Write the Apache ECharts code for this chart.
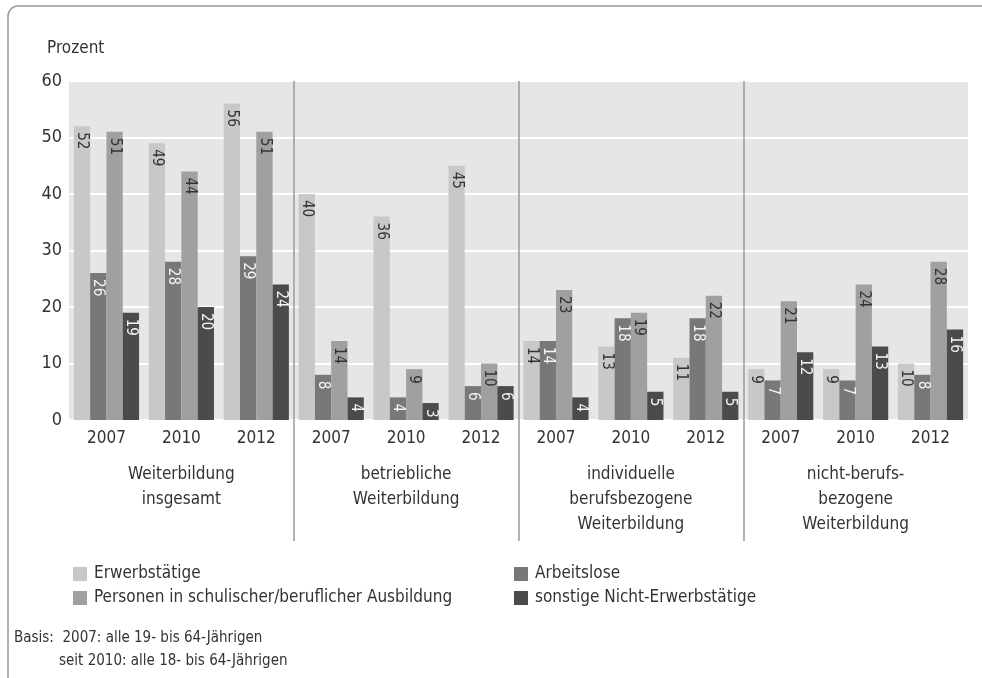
<!DOCTYPE html>
<html>
<head>
<meta charset="utf-8">
<script src="https://cdn.jsdelivr.net/npm/echarts@6/dist/echarts.min.js"></script>
<style>
  html, body { margin: 0; padding: 0; background: #fff; }
  #chart { width: 982px; height: 678px; }
</style>
</head>
<body>
<div id="chart"></div>
<script>
const FONT = "'DejaVu Sans Condensed', 'Liberation Sans Narrow', sans-serif";

const years = ["2007", "2010", "2012", "2007", "2010", "2012", "2007", "2010", "2012", "2007", "2010", "2012"];
const groups = [
  "Weiterbildung\ninsgesamt",
  "betriebliche\nWeiterbildung",
  "individuelle\nberufsbezogene\nWeiterbildung",
  "nicht-berufs-\nbezogene\nWeiterbildung",
];
const yTicks = [0, 10, 20, 30, 40, 50, 60];

const erwerbstaetige = [52, 49, 56, 40, 36, 45, 14, 13, 11, 9, 9, 10];
const arbeitslose = [26, 28, 29, 8, 4, 6, 14, 18, 18, 7, 7, 8];
const ausbildung = [51, 44, 51, 14, 9, 10, 23, 19, 22, 21, 24, 28];
const sonstige = [19, 20, 24, 4, 3, 6, 4, 5, 5, 12, 13, 16];

const seriesDefs = [
  { name: "Erwerbstätige", data: erwerbstaetige, color: "#c8c8ca", text: "#333" },
  { name: "Arbeitslose", data: arbeitslose, color: "#78787b", text: "#f4f4f4" },
  { name: "Personen in schulischer/beruflicher Ausbildung", data: ausbildung, color: "#a0a0a3", text: "#333" },
  { name: "sonstige Nicht-Erwerbstätige", data: sonstige, color: "#4b4b4d", text: "#f4f4f4" },
];

const chart = echarts.init(document.getElementById("chart"));

const legendText = { fontFamily: FONT, fontSize: 17, color: "#333", lineHeight: 20, padding: [0, 0, 0, 2] };

chart.setOption({
  animation: false,
  textStyle: { fontFamily: FONT },
  title: {
    text: "Prozent",
    left: 42,
    top: 35,
    textStyle: { fontFamily: FONT, fontSize: 17, fontWeight: "normal", color: "#333" },
  },
  graphic: [
    {
      type: "rect",
      shape: { x: 8, y: 6, width: 1100, height: 800, r: 10 },
      style: { fill: "none", stroke: "#9a9a9a", lineWidth: 1.5 },
      silent: true,
    },
    {
      type: "text",
      left: 14,
      top: 631,
      style: { text: "Basis:  2007: alle 19- bis 64-Jährigen", font: "15px " + FONT, fill: "#333" },
    },
    {
      type: "text",
      left: 59,
      top: 654,
      style: { text: "seit 2010: alle 18- bis 64-Jährigen", font: "15px " + FONT, fill: "#333" },
    },
  ],
  legend: [
    {
      data: [seriesDefs[0].name, seriesDefs[2].name],
      orient: "vertical",
      left: 68,
      top: 559,
      icon: "rect",
      itemWidth: 14,
      itemHeight: 14,
      itemGap: 4,
      textStyle: legendText,
    },
    {
      data: [seriesDefs[1].name, seriesDefs[3].name],
      orient: "vertical",
      left: 509,
      top: 559,
      icon: "rect",
      itemWidth: 14,
      itemHeight: 14,
      itemGap: 4,
      textStyle: legendText,
    },
  ],
  grid: [
    { left: 69, right: 14, top: 81, bottom: 258, show: true, backgroundColor: "#e6e6e8", borderWidth: 0 },
    { left: 69, right: 14, top: 81, bottom: 137 },
  ],
  xAxis: [
    {
      type: "category",
      gridIndex: 0,
      data: years,
      axisLine: { show: false },
      axisTick: { show: false },
      axisLabel: { fontFamily: FONT, fontSize: 17, color: "#333", margin: 10 },
    },
    {
      type: "category",
      gridIndex: 0,
      data: groups,
      position: "bottom",
      offset: 34,
      axisLine: { show: false },
      axisTick: { show: false },
      axisLabel: { fontFamily: FONT, fontSize: 17, color: "#333", lineHeight: 25, verticalAlign: "top" },
    },
    {
      type: "category",
      gridIndex: 1,
      data: groups,
      z: 5,
      axisLine: { show: false },
      axisTick: { show: false },
      axisLabel: { show: false },
      splitLine: {
        show: true,
        lineStyle: {
          color: ["rgba(0,0,0,0)", "#9a9a9a", "#9a9a9a", "#9a9a9a", "rgba(0,0,0,0)"],
          width: 1.5,
        },
      },
    },
  ],
  yAxis: [
    {
      type: "value",
      gridIndex: 0,
      min: yTicks[0],
      max: yTicks[yTicks.length - 1],
      interval: 10,
      axisLine: { show: false },
      axisTick: { show: false },
      axisLabel: { fontFamily: FONT, fontSize: 18, color: "#333", margin: 7 },
      splitLine: { lineStyle: { color: "#ffffff", width: 2 } },
    },
    {
      type: "value",
      gridIndex: 1,
      show: false,
      splitLine: { show: false },
    },
  ],
  series: seriesDefs.map((s) => ({
    name: s.name,
    type: "bar",
    xAxisIndex: 0,
    yAxisIndex: 0,
    data: s.data,
    barGap: "0%",
    barCategoryGap: "13%",
    itemStyle: { color: s.color },
    label: {
      show: true,
      position: "insideTop",
      rotate: -90,
      align: "left",
      verticalAlign: "middle",
      distance: 6,
      fontFamily: FONT,
      fontSize: 15,
      color: s.text,
    },
  })),
});
</script>
</body>
</html>
